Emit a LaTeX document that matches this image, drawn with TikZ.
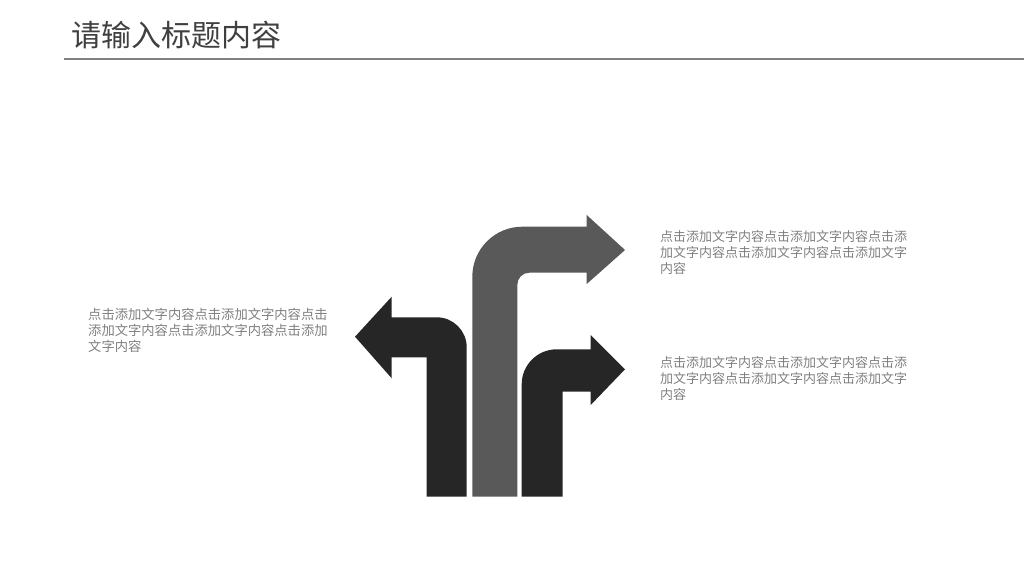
\documentclass[tikz,border=0pt]{standalone}
\usepackage{fontspec}
\setmainfont{Noto Sans CJK SC}
\usepackage{tkz-euclide}
\usetikzlibrary{calc}
\definecolor{arrowdark}{HTML}{262626}
\definecolor{arrowgray}{HTML}{595959}
\definecolor{titlegray}{HTML}{404040}
\definecolor{textgray}{HTML}{7F7F7F}
\definecolor{rulegray}{HTML}{808080}

\begin{document}
\begin{tikzpicture}[x=1pt,y=1pt,
    blurb/.style={anchor=north west,align=left,inner sep=0pt,text=textgray,
                  font=\fontsize{13}{16}\selectfont}]
                \useasboundingbox (0,0) rectangle (1024,576);
                % title and rule
                \node[anchor=west,inner sep=0pt,text=titlegray,
                      font=\fontsize{30}{30}\selectfont] (title) at (71,541) {请输入标题内容};
                \tkzDefPoint(64,517){Ra}
                \tkzDefPoint(1024,517){Rb}
                \draw[rulegray,line width=1.4pt] (Ra) -- (Rb);
                % left arrow
                \tkzDefPoint(426.7,79.3){La}
                \tkzDefPoint(426.7,218.7){Lb}
                \tkzDefPoint(391.7,218.7){Lc}
                \tkzDefPoint(391.7,197.7){Ld}
                \tkzDefPoint(355,239.3){Ltip}
                \tkzDefPoint(391.7,279.3){Le}
                \tkzDefPoint(391.7,258.7){Lf}
                \tkzDefPoint(436.7,258.7){Lg}
                \tkzDefPoint(466.7,79.3){Lh}
                \fill[arrowdark] (La) -- (Lb) -- (Lc) -- (Ld) -- (Ltip) -- (Le) -- (Lf) -- (Lg)
                     arc[start angle=90,end angle=0,radius=30] -- (Lh) -- cycle;
                % middle arrow
                \tkzDefPoint(472.3,79.3){Ma}
                \tkzDefPoint(472.3,299.3){Mb}
                \tkzDefPoint(586.7,349.3){Mc}
                \tkzDefPoint(586.7,361){Md}
                \tkzDefPoint(625,326){Mtip}
                \tkzDefPoint(586.7,292){Me}
                \tkzDefPoint(586.7,303.3){Mf}
                \tkzDefPoint(529.3,303.3){Mg}
                \tkzDefPoint(517.3,79.3){Mh}
                \fill[arrowgray] (Ma) -- (Mb) arc[start angle=180,end angle=90,radius=50]
                     -- (Mc) -- (Md) -- (Mtip) -- (Me) -- (Mf) -- (Mg)
                     arc[start angle=90,end angle=180,radius=12] -- (Mh) -- cycle;
                % right arrow
                \tkzDefPoint(521.7,79.3){Na}
                \tkzDefPoint(521.7,191.7){Nb}
                \tkzDefPoint(590.7,226.7){Nc}
                \tkzDefPoint(590.7,241){Nd}
                \tkzDefPoint(625,206.7){Ntip}
                \tkzDefPoint(590.7,171){Ne}
                \tkzDefPoint(590.7,184.3){Nf}
                \tkzDefPoint(562.7,184.3){Ng}
                \tkzDefPoint(562.7,79.3){Nh}
                \fill[arrowdark] (Na) -- (Nb) arc[start angle=180,end angle=90,radius=35]
                     -- (Nc) -- (Nd) -- (Ntip) -- (Ne) -- (Nf) -- (Ng) -- (Nh) -- cycle;
                % text blocks
                \node[blurb,font=\fontsize{13.3}{16}\selectfont] (leftnote) at (88,268)
                     {点击添加文字内容点击添加文字内容点击\\添加文字内容点击添加文字内容点击添加\\文字内容};
                \node[blurb] (topnote) at (660,346)
                     {点击添加文字内容点击添加文字内容点击添\\加文字内容点击添加文字内容点击添加文字\\内容};
                \node[blurb] (lownote) at (660,220)
                     {点击添加文字内容点击添加文字内容点击添\\加文字内容点击添加文字内容点击添加文字\\内容};
\end{tikzpicture}
\end{document}
